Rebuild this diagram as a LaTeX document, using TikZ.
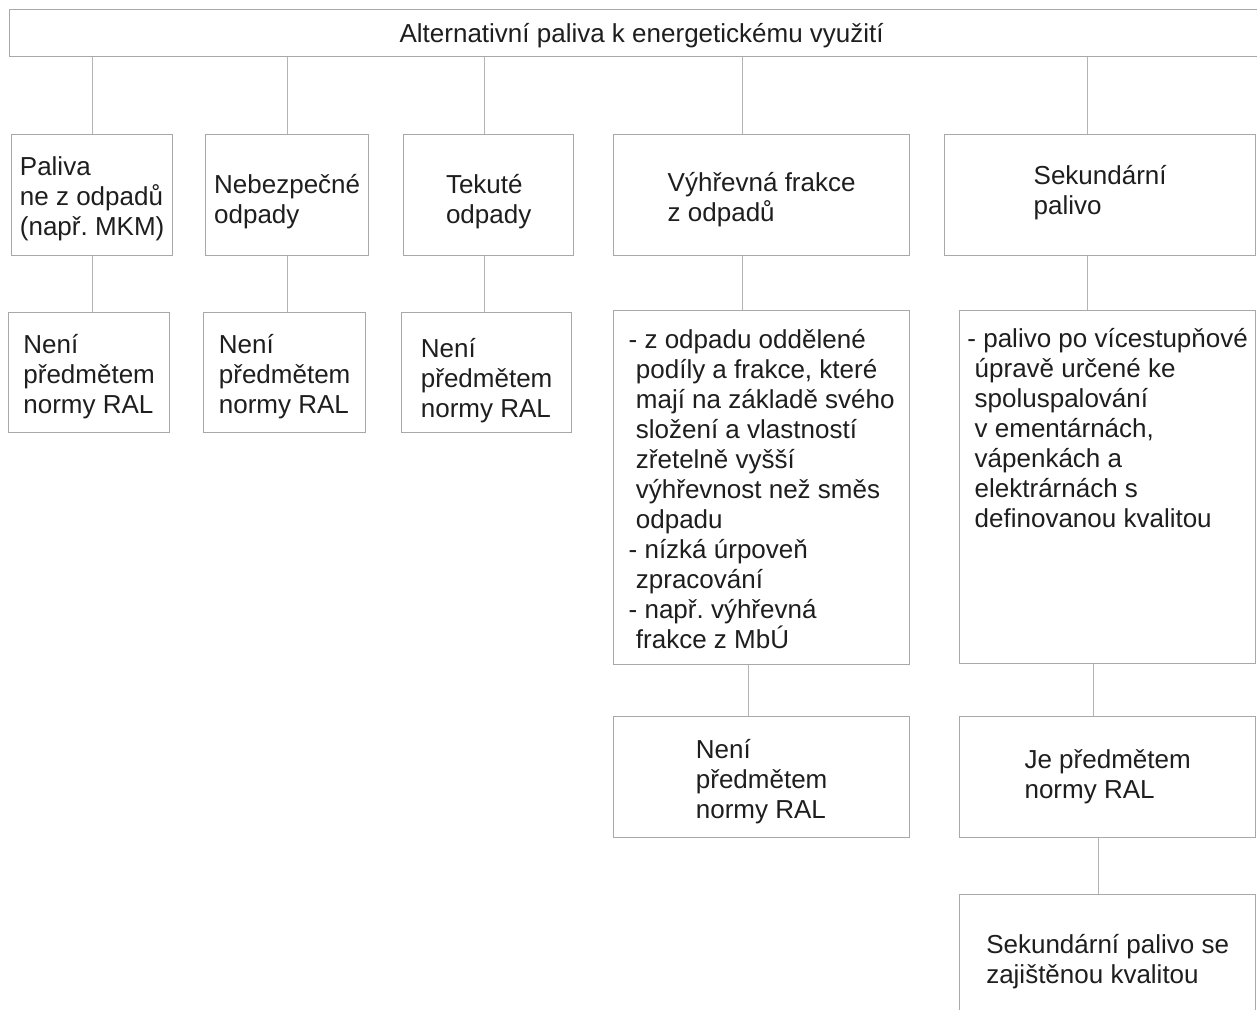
\documentclass[tikz,border=0pt]{standalone}
\usepackage{fontspec}
\setmainfont{Liberation Sans}
\frenchspacing
\definecolor{boxgray}{HTML}{A8A8A8}
\definecolor{linegray}{HTML}{B4B4B4}
\definecolor{txtgray}{HTML}{1E1E1E}

\begin{document}
\begin{tikzpicture}[x=1pt, y=-1pt,
    box/.style={draw=boxgray, line width=1.3pt, inner sep=0pt, anchor=north west,
        align=left, text=txtgray, font=\fontsize{26pt}{30pt}\selectfont},
    link/.style={draw=linegray, line width=1pt}]
    \clip (0,0) rectangle (1257,1009);
    \fill[white] (0,0) rectangle (1257,1009);

    \node[box, minimum width=1264pt, text height=33pt, text depth=14pt] (titul) at (9,9)
        {Alternativní paliva k energetickému využití};

    % first row
    \node[box, minimum width=161pt, text height=101pt, text depth=20pt] (paliva) at (11,134)
        {Paliva\\ne z odpadů\\(např. MKM)};
    \node[box, minimum width=163pt, text height=89pt, text depth=32pt] (nebezp) at (205,134)
        {Nebezpečné\\odpady};
    \node[box, minimum width=170pt, text height=89pt, text depth=32pt] (tekute) at (403,134)
        {Tekuté\\odpady};
    \node[box, minimum width=296pt, text height=87pt, text depth=34pt] (vyhr) at (613,134)
        {Výhřevná frakce\\z odpadů};
    \node[box, minimum width=311pt, text height=80pt, text depth=41pt] (sekund) at (944,134)
        {Sekundární\\palivo};

    % second row
    \node[box, minimum width=161pt, text height=101pt, text depth=19pt] (neni1) at (8,312)
        {Není\\předmětem\\normy RAL};
    \node[box, minimum width=162pt, text height=101pt, text depth=19pt] (neni2) at (203,312)
        {Není\\předmětem\\normy RAL};
    \node[box, minimum width=170pt, text height=105pt, text depth=15pt] (neni3) at (401,312)
        {Není\\předmětem\\normy RAL};
    \node[box, minimum width=296pt, text height=338pt, text depth=16pt] (vyhrpopis) at (613,310)
        {- z odpadu oddělené\\\ podíly a frakce, které\\\ mají na základě svého\\\ složení a vlastností\\\ zřetelně vyšší\\\ výhřevnost než směs\\\ odpadu\\- nízká úrpoveň\\\ zpracování\\- např. výhřevná\\\ frakce z MbÚ};
    \node[box, minimum width=296pt, text height=217pt, text depth=136pt] (sekpopis) at (959,310)
        {- palivo po vícestupňové\\\ úpravě určené ke\\\ spoluspalování\\\ v ementárnách,\\\ vápenkách a\\\ elektrárnách s\\\ definovanou kvalitou};

    % third and fourth row
    \node[box, minimum width=296pt, text height=102pt, text depth=19pt] (neni4) at (613,716)
        {Není\\předmětem\\normy RAL};
    \node[box, minimum width=296pt, text height=82pt, text depth=39pt] (jepred) at (959,716)
        {Je předmětem\\normy RAL};
    \node[box, minimum width=296pt, text height=89pt, text depth=61pt] (zajist) at (959,894)
        {Sekundární palivo se\\zajištěnou kvalitou};

    \draw[link] (paliva.north) -- (paliva.north |- titul.south);
    \draw[link] (nebezp.north) -- (nebezp.north |- titul.south);
    \draw[link] ([xshift=-4pt]tekute.north) -- ([xshift=-4pt]tekute.north |- titul.south);
    \draw[link] ([xshift=-19pt]vyhr.north) -- ([xshift=-19pt]vyhr.north |- titul.south);
    \draw[link] ([xshift=-13pt]sekund.north) -- ([xshift=-13pt]sekund.north |- titul.south);

    \draw[link] (paliva.south) -- (paliva.south |- neni1.north);
    \draw[link] (nebezp.south) -- (nebezp.south |- neni2.north);
    \draw[link] ([xshift=-4pt]tekute.south) -- ([xshift=-4pt]tekute.south |- neni3.north);
    \draw[link] ([xshift=-19pt]vyhr.south) -- ([xshift=-19pt]vyhr.south |- vyhrpopis.north);
    \draw[link] ([xshift=-13pt]sekund.south) -- ([xshift=-13pt]sekund.south |- sekpopis.north);

    \draw[link] ([xshift=-13pt]vyhrpopis.south) -- ([xshift=-13pt]vyhrpopis.south |- neni4.north);
    \draw[link] ([xshift=-14pt]sekpopis.south) -- ([xshift=-14pt]sekpopis.south |- jepred.north);
    \draw[link] ([xshift=-9pt]jepred.south) -- ([xshift=-9pt]jepred.south |- zajist.north);
\end{tikzpicture}
\end{document}
